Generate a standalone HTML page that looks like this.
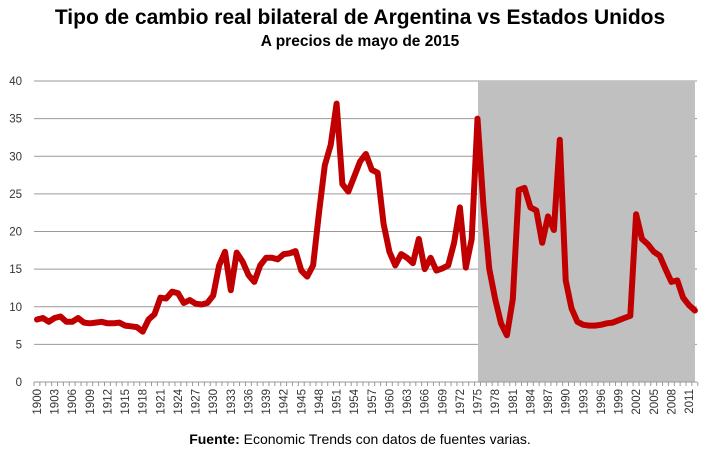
<!DOCTYPE html>
<html><head><meta charset="utf-8"><style>
body{margin:0;background:#fff;width:719px;height:451px;overflow:hidden}
text{font-family:"Liberation Sans",Arial,sans-serif}
</style></head><body>
<svg id="s" width="719" height="451" xmlns="http://www.w3.org/2000/svg">
<text x="360" y="24" text-anchor="middle" font-size="21" font-weight="bold">Tipo de cambio real bilateral de Argentina vs Estados Unidos</text>
<text x="360" y="46" text-anchor="middle" font-size="15.5" font-weight="bold">A precios de mayo de 2015</text>
<g id="g"></g>
<text x="360" y="444" text-anchor="middle" font-size="14"><tspan font-weight="bold">Fuente:</tspan> Economic Trends con datos de fuentes varias.</text>
</svg>
<script>
var d=[8.3,8.5,8.0,8.5,8.7,8.0,8.0,8.5,7.9,7.8,7.9,8.0,7.8,7.8,7.9,7.5,7.4,7.3,6.7,8.3,9.0,11.2,11.1,12.0,11.8,10.5,10.9,10.4,10.3,10.5,11.5,15.5,17.3,12.2,17.2,16.0,14.2,13.3,15.5,16.5,16.5,16.3,17.0,17.1,17.4,14.8,14.0,15.5,22.5,28.8,31.5,37.0,26.3,25.3,27.3,29.3,30.3,28.2,27.8,21.0,17.3,15.5,17.0,16.5,15.8,19.0,15.0,16.5,14.8,15.1,15.5,18.5,23.2,15.2,19.0,35.0,23.5,15.0,11.0,7.8,6.2,11.0,25.5,25.8,23.2,22.8,18.5,22.0,20.2,32.2,13.5,9.8,8.0,7.6,7.5,7.5,7.6,7.8,7.9,8.2,8.5,8.8,22.3,19.0,18.3,17.3,16.8,15.0,13.3,13.5,11.2,10.2,9.5];
var X=function(i){return 37+i*5.874},Y=function(v){return 382-v*7.525};
var h='';
for(var v=5;v<=40;v+=5){var y=Y(v);h+='<line x1="34" x2="697" y1="'+y+'" y2="'+y+'" stroke="#9a9a9a"/>';}
h+='<rect x="478" y="81" width="217" height="301" fill="#c0c0c0"/>';
for(var v=0;v<=40;v+=5)h+='<text x="22" y="'+(Y(v)+4)+'" text-anchor="end" font-size="11.5" fill="#333">'+v+'</text>';
h+='<line x1="34" x2="697" y1="382" y2="382" stroke="#999"/>';
for(var i=0;i<=113;i++){var x=34+i*5.874;h+='<line x1="'+x+'" x2="'+x+'" y1="382" y2="386" stroke="#999"/>';}
for(var i=0;i<=111;i+=3){var x=X(i)+4;h+='<text transform="translate('+x+',389) rotate(-90)" text-anchor="end" font-size="11.5" fill="#333">'+(1900+i)+'</text>';}
var p='';d.forEach(function(v,i){p+=(i?'L':'M')+X(i).toFixed(1)+','+Y(v).toFixed(1)});
h+='<path d="'+p+'" fill="none" stroke="#c00000" stroke-width="6" stroke-linejoin="round" stroke-linecap="round"/>';
document.getElementById('g').innerHTML=h;
</script>
</body></html>
